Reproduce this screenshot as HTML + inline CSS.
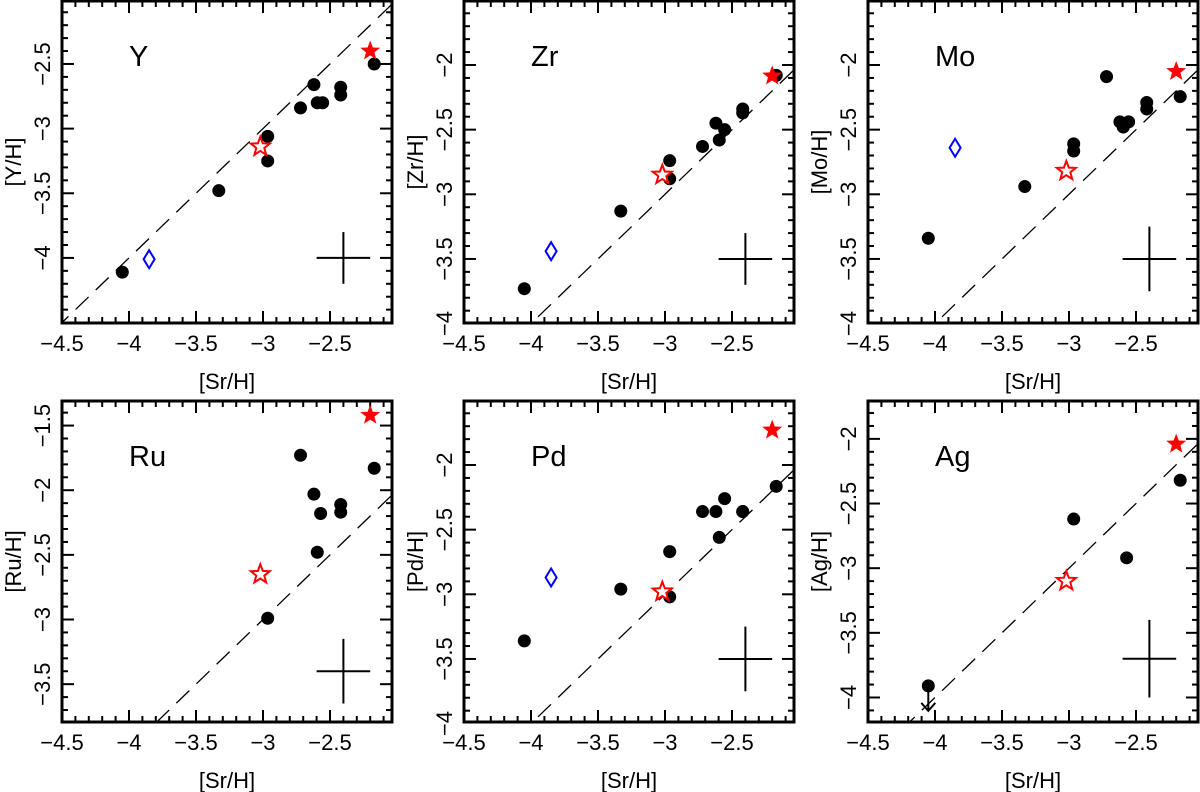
<!DOCTYPE html>
<html><head><meta charset="utf-8"><style>
html,body{margin:0;padding:0;background:#fff;overflow:hidden;width:1200px;height:792px;}
svg{display:block;font-family:"Liberation Sans",sans-serif;}
</style></head><body>
<svg id="fig" width="1200" height="792" viewBox="0 0 1200 792" xmlns="http://www.w3.org/2000/svg"></svg>
<script>
// Shared x data ([Sr/H]) per star
const srAll = [-4.05, -3.33, -2.965, -2.965, -2.72, -2.62, -2.595, -2.555, -2.42, -2.42, -2.17];
const yVals = [-4.11, -3.48, -3.06, -3.25, -2.84, -2.66, -2.80, -2.80, -2.68, -2.74, -2.50];
const zrVals = [-3.73, -3.13, -2.74, -2.88, -2.63, -2.45, -2.58, -2.50, -2.34, -2.37, -2.08];
const moVals = [-3.34, -2.94, -2.61, -2.665, -2.09, -2.44, -2.48, -2.44, -2.29, -2.34, -2.245];
const ruSr = [-2.965, -2.72, -2.62, -2.595, -2.57, -2.42, -2.42, -2.17];
const ruVals = [-2.99, -1.73, -2.03, -2.48, -2.18, -2.11, -2.17, -1.83];
const pdVals = [-3.36, -2.96, -2.67, -3.02, -2.36, -2.36, -2.56, -2.26, -2.36, -2.36, -2.165];
const pdSr = [-4.05, -3.33, -2.965, -2.965, -2.72, -2.62, -2.595, -2.555, -2.42, -2.42, -2.17];
const agSr = [-2.965, -2.57, -2.17];
const agVals = [-2.62, -2.92, -2.32];
const agLimitSr = [-4.05];
const agLimitVals = [-3.91];
const openStarSr = -3.02;
const openStarVals = [-3.14, -2.85, -2.82, -2.65, -2.98, -3.10];
const filledStarSr = -2.2;
const filledStarVals = [-2.40, -2.085, -2.05, -1.42, -1.73, -2.04];
const diamondSr = -3.85;
const diamondVals = [-4.01, -3.44, -2.64, null, -2.87, null];
const errX = [-2.4, -2.4, -2.4, -2.4, -2.4, -2.4];
const errY = [-4.0, -3.5, -3.5, -3.4, -3.5, -3.7];
const errDX = [0.2, 0.2, 0.2, 0.2, 0.2, 0.2];
const errDY = [0.2, 0.2, 0.25, 0.25, 0.25, 0.3];
const elements = ["Y", "Zr", "Mo", "Ru", "Pd", "Ag"];
const yTicks = [[-2.5,-3,-3.5,-4],[-2,-2.5,-3,-3.5,-4],[-2,-2.5,-3,-3.5,-4],[-1.5,-2,-2.5,-3,-3.5],[-2,-2.5,-3,-3.5,-4],[-2,-2.5,-3,-3.5,-4]];
const xTicks = [-4.5, -4, -3.5, -3, -2.5];

const NS = "http://www.w3.org/2000/svg";
const svg = document.getElementById("fig");
function mk(tag, attrs, parent){ const e=document.createElementNS(NS,tag); for(const k in attrs) e.setAttribute(k,attrs[k]); (parent||svg).appendChild(e); return e; }
function fmt(v){ return String(v).replace("-", "\u2212"); }

const W = 330, XS = 134, YS = 129.3, XMIN = -4.5;
const panels = [
  {L:62, T:1, H:322, yMax:-2.013, xs:srAll, ys:yVals},
  {L:464, T:1, H:322, yMax:-1.505, xs:srAll, ys:zrVals},
  {L:868, T:1, H:322, yMax:-1.505, xs:srAll, ys:moVals},
  {L:62, T:401, H:321, yMax:-1.31, xs:ruSr, ys:ruVals},
  {L:464, T:401, H:321, yMax:-1.505, xs:pdSr, ys:pdVals},
  {L:868, T:401, H:321, yMax:-1.707, xs:agSr, ys:agVals}
];

function starPts(cx, cy, R){
  const r = R*0.42, p=[];
  for(let i=0;i<10;i++){ const a=-Math.PI/2 + i*Math.PI/5; const rr = i%2?r:R; p.push((cx+rr*Math.cos(a)).toFixed(1)+","+(cy+rr*Math.sin(a)).toFixed(1)); }
  return p.join(" ");
}

panels.forEach((p, i) => {
  const g = mk("g", {});
  
  
  const L=p.L, T=p.T, R=L+W, B=T+p.H;
  const xs = v => L + (v - XMIN)*XS;
  const ys = v => T + (p.yMax - v)*YS;
  const yMin = p.yMax - p.H/YS, xMax = XMIN + W/XS;
  const cid = "clip"+i;
  const cp = mk("clipPath", {id:cid}, g); mk("rect", {x:L, y:T, width:W, height:p.H}, cp);
  for(let k=-45; k<=-15; k++){
    const v = k/10; if(v < XMIN-1e-6 || v > xMax) continue;
    const major = (k % 5 === 0), len = major?12:6, x = xs(v);
    mk("line", {x1:x, y1:B, x2:x, y2:B-len, stroke:"#000", "stroke-width":2}, g);
    mk("line", {x1:x, y1:T, x2:x, y2:T+len, stroke:"#000", "stroke-width":2}, g);
  }
  for(let k=-45; k<=-10; k++){
    const v = k/10; if(v < yMin-1e-6 || v > p.yMax) continue;
    const major = (k % 5 === 0), len = major?12:6, y = ys(v);
    mk("line", {x1:L, y1:y, x2:L+len, y2:y, stroke:"#000", "stroke-width":2}, g);
    mk("line", {x1:R, y1:y, x2:R-len, y2:y, stroke:"#000", "stroke-width":2}, g);
  }
  const frame = mk("rect", {x:L, y:T, width:W, height:p.H, fill:"none", stroke:"#000", "stroke-width":3}, g);
  
  
  xTicks.forEach(v => {
    const t = mk("text", {x:xs(v), y:B+28, "font-size":22, "text-anchor":"middle"}, g); t.textContent = fmt(v);
    
    
  });
  yTicks[i].forEach(v => {
    const y = ys(v);
    const t = mk("text", {x:L-12, y:y, "font-size":22, "text-anchor":"middle", transform:`rotate(-90 ${L-12} ${y})`}, g); t.textContent = fmt(v);
    
    
  });
  const xt = mk("text", {x:L+165, y:B+66, "font-size":22, "text-anchor":"middle"}, g); xt.textContent = "[Sr/H]";
  
  
  const yc = T + p.H/2;
  const yt = mk("text", {x:L-41, y:yc, "font-size":22, "text-anchor":"middle", transform:`rotate(-90 ${L-41} ${yc})`}, g); yt.textContent = "["+elements[i]+"/H]";
  
  
  const el = mk("text", {x:L+67, y:T+65, "font-size":29}, g); el.textContent = elements[i];
  
  
  const cg = mk("g", {"clip-path":`url(#${cid})`}, g);
  const dl = mk("line", {x1:xs(-5), y1:ys(-5), x2:xs(-1), y2:ys(-1), stroke:"#000", "stroke-width":1.3, "stroke-dasharray":"18 10"}, cg);
  
  
  const ex = xs(errX[i]), ey = ys(errY[i]);
  const e1 = mk("line", {x1:xs(errX[i]-errDX[i]), y1:ey, x2:xs(errX[i]+errDX[i]), y2:ey, stroke:"#000", "stroke-width":2}, g);
  
  
  const e2 = mk("line", {x1:ex, y1:ys(errY[i]+errDY[i]), x2:ex, y2:ys(errY[i]-errDY[i]), stroke:"#000", "stroke-width":2}, g);
  
  
  p.xs.forEach((xv, j) => {
    const c = mk("circle", {cx:xs(xv), cy:ys(p.ys[j]), r:6.5, fill:"#000"}, g);
    
    
  });
  if(i === 5){
    agLimitSr.forEach((xv, j) => {
      const x = xs(xv), y = ys(agLimitVals[j]);
      const c = mk("circle", {cx:x, cy:y, r:6.5, fill:"#000"}, g);
      
      
      const a = mk("path", {d:`M${x} ${y} V${y+25} M${x-7} ${y+17} L${x} ${y+25} L${x+7} ${y+17}`, fill:"none", stroke:"#000", "stroke-width":2}, g);
      
      
    });
  }
  if(diamondVals[i] !== null){
    const x = xs(diamondSr), y = ys(diamondVals[i]);
    const d = mk("polygon", {points:`${x},${y-9} ${x+5.5},${y} ${x},${y+9} ${x-5.5},${y}`, fill:"none", stroke:"#0000ff", "stroke-width":2}, g);
    
    
  }
  const os = mk("polygon", {points:starPts(xs(openStarSr), ys(openStarVals[i]), 10), fill:"#fff", stroke:"#ff0000", "stroke-width":2}, g);
  
  
  const fs = mk("polygon", {points:starPts(xs(filledStarSr), ys(filledStarVals[i]), 10.5), fill:"#ff0000"}, g);
  
  
});
</script>
</body></html>
